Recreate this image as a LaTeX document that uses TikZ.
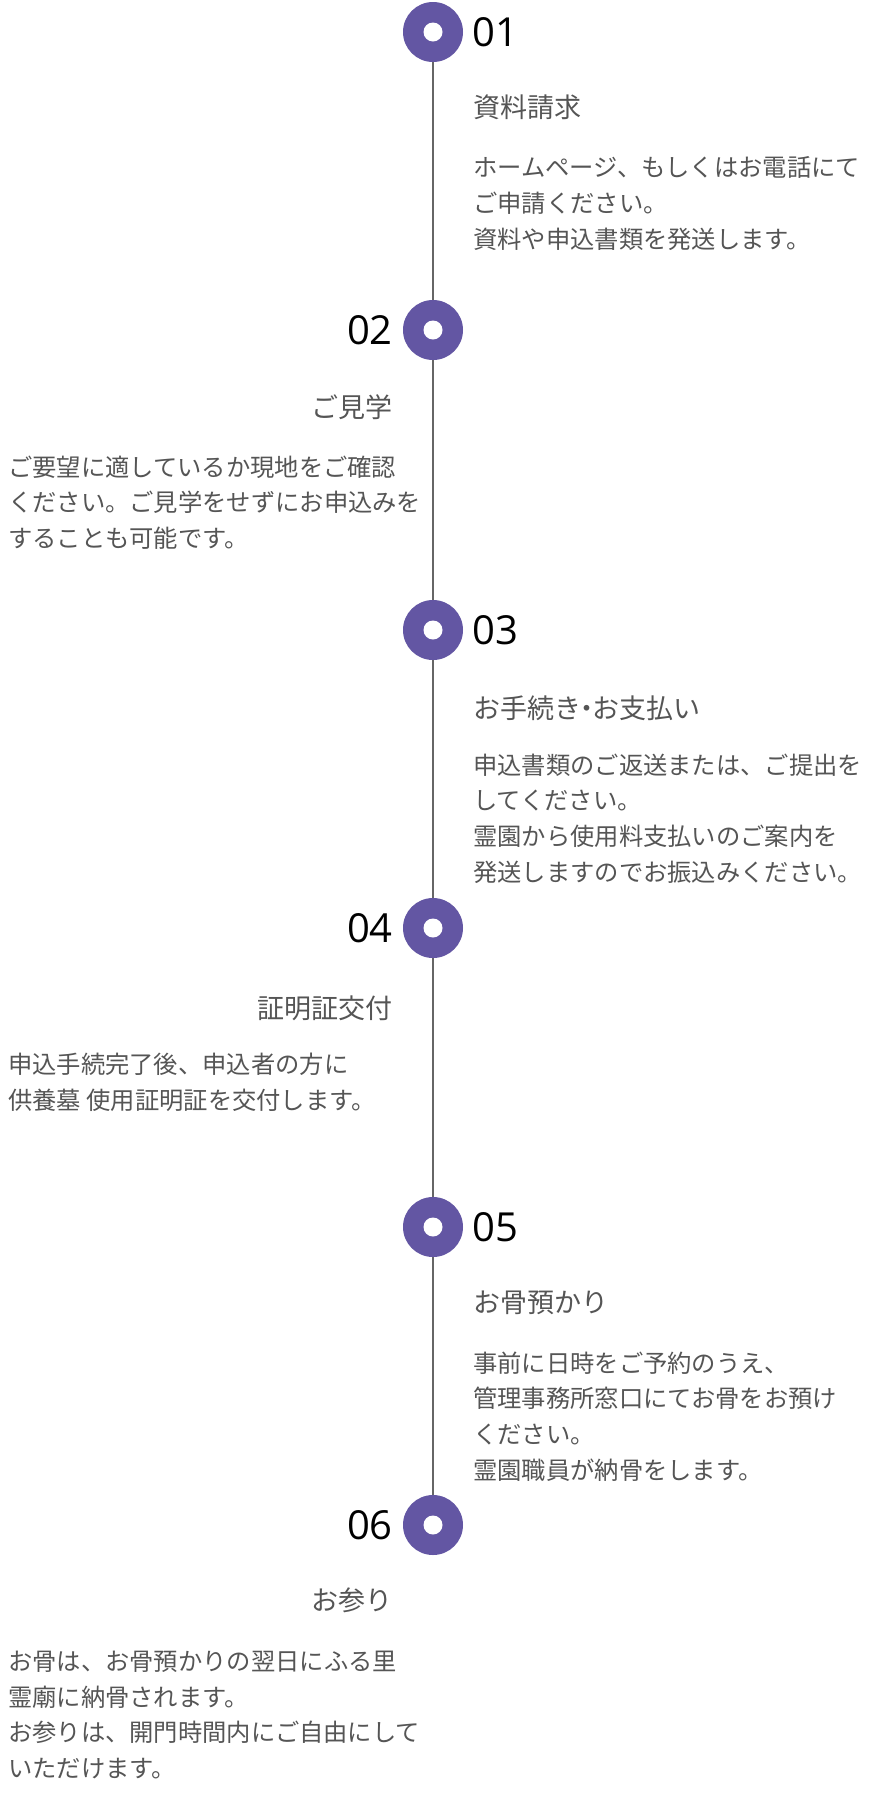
\documentclass[tikz,border=0pt]{standalone}
\usepackage{fontspec}
\newfontfamily\jp{Noto Sans CJK JP}
\newfontfamily\numfont{Open Sans}
\definecolor{stepPurple}{RGB}{99,86,163}
\definecolor{txtGray}{HTML}{555555}
\definecolor{lineGray}{HTML}{666666}
\tikzset{
  dot/.style={circle, fill=stepPurple, draw=none, minimum size=60pt, inner sep=0pt,
    path picture={\fill[white] (path picture bounding box.center) circle (9.5pt);}},
  numlabel/.style={inner sep=0pt, font=\numfont\fontsize{40}{40}\selectfont, text=black},
  titlelabel/.style={inner sep=0pt, font=\jp\fontsize{27}{30}\selectfont, text=txtGray},
  bodytext/.style={inner sep=0pt, align=left, font=\jp\fontsize{24.3}{35.7}\selectfont, text=txtGray},
  vline/.style={draw=lineGray, line width=1.5pt}
}
\begin{document}
\begin{tikzpicture}[x=1pt,y=-1pt]
\useasboundingbox[fill=white] (0,0) rectangle (870,1800);
% circles
\node[dot] (c1) at (433,32) {};
\node[dot] (c2) at (433,330) {};
\node[dot] (c3) at (433,630) {};
\node[dot] (c4) at (433,928) {};
\node[dot] (c5) at (433,1227) {};
\node[dot] (c6) at (433,1525) {};
% connectors
\draw[vline] (c1.south) -- (c2.north);
\draw[vline] (c2.south) -- (c3.north);
\draw[vline] (c3.south) -- (c4.north);
\draw[vline] (c4.south) -- (c5.north);
\draw[vline] (c5.south) -- (c6.north);
% step 01
\node[numlabel, anchor=west] (n1) at (472,32) {01};
\node[titlelabel, anchor=west] (t1) at (473,107) {資料請求};
\node[bodytext, anchor=west] (b1) at (473,203.5) {ホームページ、もしくはお電話にて\\ご申請ください。\\資料や申込書類を発送します。};
% step 02
\node[numlabel, anchor=east] (n2) at (393,330) {02};
\node[titlelabel, anchor=east] (t2) at (393,407) {ご見学};
\node[bodytext, anchor=west] (b2) at (8,502.5) {ご要望に適しているか現地をご確認\\ください。ご見学をせずにお申込みを\\することも可能です。};
% step 03
\node[numlabel, anchor=west] (n3) at (472,630) {03};
\node[titlelabel, anchor=west] (t3) at (473,708) {お手続き\kern-0.3em・\kern-0.3emお支払い};
\node[bodytext, anchor=west] (b3) at (473,818.5) {申込書類のご返送または、ご提出を\\してください。\\霊園から使用料支払いのご案内を\\発送しますのでお振込みください。};
% step 04
\node[numlabel, anchor=east] (n4) at (393,928) {04};
\node[titlelabel, anchor=east] (t4) at (393,1008) {証明証交付};
\node[bodytext, anchor=west] (b4) at (8,1082) {申込手続完了後、申込者の方に\\供養墓 使用証明証を交付します。};
% step 05
\node[numlabel, anchor=west] (n5) at (472,1227) {05};
\node[titlelabel, anchor=west] (t5) at (473,1303) {お骨預かり};
\node[bodytext, anchor=west] (b5) at (473,1416.5) {事前に日時をご予約のうえ、\\管理事務所窓口にてお骨をお預け\\ください。\\霊園職員が納骨をします。};
% step 06
\node[numlabel, anchor=east] (n6) at (393,1525) {06};
\node[titlelabel, anchor=east] (t6) at (393,1600) {お参り};
\node[bodytext, anchor=west] (b6) at (8,1715) {お骨は、お骨預かりの翌日にふる里\\霊廟に納骨されます。\\お参りは、開門時間内にご自由にして\\いただけます。};
\end{tikzpicture}
\end{document}
